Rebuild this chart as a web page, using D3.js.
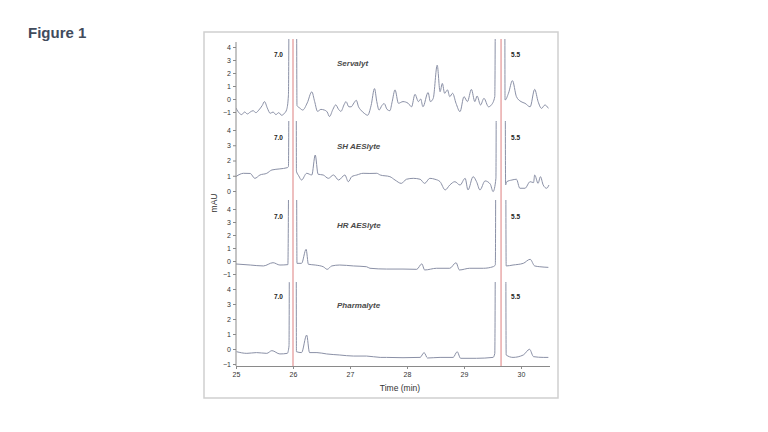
<!DOCTYPE html>
<html>
<head>
<meta charset="utf-8">
<script src="https://cdn.jsdelivr.net/npm/d3@7"></script>
<style>
  body { margin: 0; background: #fff; }
  svg { font-family: Arial, "Liberation Sans", sans-serif; }
</style>
</head>
<body>
<svg width="768" height="432"></svg>
<script>
// data: [time (min), mAU]
const servalyt = [[25.00,-0.7],[25.06,-1.1],[25.10,-1.2],[25.15,-1.0],[25.20,-1.15],[25.25,-1.0],[25.30,-0.9],[25.35,-1.05],[25.40,-0.85],[25.46,-0.5],[25.50,-0.2],[25.55,-0.7],[25.60,-1.1],[25.65,-1.0],[25.70,-1.2],[25.75,-1.05],[25.80,-1.25],[25.85,-1.1],[25.89,-0.8],[25.92,0.3],[25.95,30],[26.05,30],[26.07,-0.5],[26.12,-0.7],[26.17,-0.85],[26.25,-0.3],[26.33,0.55],[26.38,-0.2],[26.43,-0.95],[26.49,-0.8],[26.55,-0.85],[26.60,-1.0],[26.64,-1.35],[26.70,-0.8],[26.75,-0.45],[26.80,-0.8],[26.84,-0.95],[26.90,-0.4],[26.93,-0.2],[26.98,-0.6],[27.02,-0.6],[27.07,-0.3],[27.11,-0.1],[27.15,-0.6],[27.19,-0.85],[27.25,-1.1],[27.31,-1.25],[27.37,-0.5],[27.43,0.8],[27.47,-0.2],[27.51,-0.85],[27.56,-0.5],[27.60,-0.35],[27.65,-0.8],[27.70,-0.9],[27.74,-0.2],[27.79,0.7],[27.85,-0.33],[27.93,-0.2],[28.02,-0.33],[28.08,-0.6],[28.14,0.36],[28.20,-0.2],[28.24,0.0],[28.28,-0.6],[28.37,0.5],[28.41,-0.2],[28.46,0.05],[28.53,2.6],[28.58,0.56],[28.62,1.2],[28.66,0.44],[28.71,0.7],[28.75,0.18],[28.80,0.44],[28.86,-0.33],[28.93,-0.97],[29.00,0.18],[29.06,-0.2],[29.13,0.74],[29.19,-0.2],[29.23,0.23],[29.29,-0.46],[29.35,0.05],[29.43,-0.6],[29.48,-0.46],[29.54,0.18],[29.57,30],[29.71,30],[29.72,-0.08],[29.78,0.44],[29.85,1.41],[29.92,0.18],[30.00,-0.2],[30.07,-0.33],[30.16,-0.6],[30.24,0.74],[30.30,-0.2],[30.36,-0.72],[30.42,-0.46],[30.48,-0.72]]

const shAeslyte = [[25.00,0.95],[25.07,1.1],[25.13,1.16],[25.25,1.15],[25.33,0.83],[25.42,1.05],[25.54,1.16],[25.63,1.38],[25.77,1.45],[25.90,1.53],[25.92,1.6],[25.95,30],[26.05,30],[26.06,1.3],[26.10,1.0],[26.15,0.72],[26.24,1.16],[26.33,1.05],[26.39,2.36],[26.44,1.1],[26.53,1.05],[26.62,0.83],[26.71,1.05],[26.80,0.72],[26.91,1.05],[26.97,0.61],[27.03,0.94],[27.12,1.05],[27.23,1.16],[27.35,1.15],[27.47,1.16],[27.53,1.05],[27.70,0.94],[27.79,0.72],[27.90,0.5],[27.99,0.77],[28.11,0.83],[28.23,0.77],[28.31,0.5],[28.40,0.83],[28.49,0.77],[28.58,0.61],[28.67,0.07],[28.75,0.39],[28.84,0.61],[28.93,0.39],[29.02,0.83],[29.07,0.07],[29.16,0.94],[29.22,0.61],[29.28,0.07],[29.37,0.66],[29.46,0.46],[29.51,-0.04],[29.56,0.83],[29.58,30],[29.71,30],[29.73,0.4],[29.75,0.61],[29.84,0.72],[29.92,0.77],[29.98,0.18],[30.07,0.18],[30.16,0.61],[30.22,0.55],[30.24,1.05],[30.30,0.5],[30.34,0.94],[30.39,0.39],[30.45,0.18],[30.49,0.39]]

const hrAeslyte = [[25.00,-0.23],[25.25,-0.31],[25.48,-0.38],[25.65,-0.13],[25.77,-0.31],[25.91,-0.28],[25.95,30],[26.05,30],[26.07,-0.18],[26.15,-0.18],[26.23,0.9],[26.27,-0.25],[26.39,-0.31],[26.53,-0.44],[26.60,-0.64],[26.68,-0.38],[26.82,-0.31],[27.06,-0.38],[27.29,-0.44],[27.35,-0.56],[27.64,-0.62],[27.93,-0.62],[28.17,-0.64],[28.26,-0.22],[28.31,-0.69],[28.52,-0.56],[28.75,-0.56],[28.86,-0.13],[28.92,-0.69],[29.10,-0.56],[29.34,-0.56],[29.51,-0.44],[29.55,-0.3],[29.57,30],[29.72,30],[29.74,-0.38],[29.86,-0.31],[30.04,-0.18],[30.16,0.13],[30.24,-0.38],[30.33,-0.44],[30.48,-0.49]]

const pharmalyte = [[25.01,-0.18],[25.19,-0.29],[25.36,-0.24],[25.54,-0.29],[25.63,-0.11],[25.77,-0.33],[25.90,-0.29],[25.93,0.2],[25.95,30],[26.05,30],[26.06,-0.18],[26.15,-0.24],[26.24,0.93],[26.29,-0.24],[26.42,-0.24],[26.59,-0.33],[26.82,-0.4],[27.06,-0.47],[27.29,-0.47],[27.53,-0.56],[27.64,-0.56],[27.93,-0.58],[28.23,-0.56],[28.30,-0.24],[28.36,-0.6],[28.58,-0.56],[28.81,-0.56],[28.88,-0.18],[28.94,-0.62],[29.22,-0.62],[29.51,-0.56],[29.54,-0.3],[29.57,30],[29.72,30],[29.74,-0.4],[29.86,-0.56],[30.04,-0.4],[30.15,-0.02],[30.22,-0.51],[30.39,-0.56],[30.48,-0.56]]

const names = ['Servalyt', 'SH AESlyte', 'HR AESlyte', 'Pharmalyte']
const traces = [servalyt, shAeslyte, hrAeslyte, pharmalyte]
const yDomains = [[-1, 4], [0, 4], [-1, 4], [-1, 4]]
const yTickValues = [[-1, 0, 1, 2, 3, 4], [0, 1, 2, 3, 4], [-1, 0, 1, 2, 3, 4], [-1, 0, 1, 2, 3, 4]]
const xTicks = [25, 26, 27, 28, 29, 30]
const markers = [26.0, 29.65]
const markerLabels = ['7.0', '5.5']

// layout
const panelRanges = [[112, 47], [191, 130], [274, 209], [364, 289]]
const panelTops = [39, 121, 200, 282]
const axisBottom = 366

const svg = d3.select('svg')

//figure title
svg.append('text')
    .attr('x', 28)
    .attr('y', 38)
    .text('Figure 1')
    .style('font-size', '15px')
    .style('font-weight', 'bold')
    .style('fill', '#414b5c')

//outer frame
svg.append('rect')
    .attr('x', 204)
    .attr('y', 32)
    .attr('width', 354)
    .attr('height', 366)
    .style('fill', 'none')
    .style('stroke', '#cfcfcf')
    .style('stroke-width', '1.5px')

const x = d3.scaleLinear().domain([25, 30.5]).range([236, 549.5])

//red marker lines
svg.selectAll('line.marker')
    .data(markers)
    .enter().append('line')
    .attr('class', 'marker')
    .attr('x1', d => x(d))
    .attr('x2', d => x(d))
    .attr('y1', 39)
    .attr('y2', axisBottom)
    .style('stroke', '#e39494')
    .style('stroke-width', '1.2px')

//panels
for (let i = 0; i < traces.length; i++) {
    const y = d3.scaleLinear().domain(yDomains[i]).range(panelRanges[i])

    svg.append('clipPath')
        .attr('id', 'clip' + i)
        .append('rect')
        .attr('x', 236)
        .attr('y', panelTops[i])
        .attr('width', 320)
        .attr('height', 120)

    const line = d3.line()
        .x(d => x(d[0]))
        .y(d => y(d[1]))
        .curve(d3.curveMonotoneX)

    svg.append('path')
        .datum(traces[i])
        .attr('d', line)
        .attr('clip-path', 'url(#clip' + i + ')')
        .style('fill', 'none')
        .style('stroke', '#8a90a6')
        .style('stroke-width', '1px')
        .style('stroke-linejoin', 'round')

    //y ticks for this panel
    const ax = svg.append('g')
        .attr('transform', 'translate(236,0)')
        .call(d3.axisLeft(y).tickValues(yTickValues[i]).tickSize(3).tickSizeOuter(0).tickFormat(d3.format('d')))
    ax.select('.domain').remove()
    ax.selectAll('line').style('stroke', '#8a8a8a')
    ax.selectAll('text')
        .style('font-size', '7px')
        .style('fill', '#333')
        .attr('font-family', null)
        .attr('x', -5)

    //sample name
    svg.append('text')
        .attr('x', 337)
        .attr('y', y(4) + 19)
        .text(names[i])
        .style('font-size', '8px')
        .style('font-style', 'italic')
        .style('font-weight', 'bold')
        .style('fill', '#4a4a4a')

    //pI labels
    svg.append('text')
        .attr('x', x(markers[0]) - 10)
        .attr('y', y(4) + 10)
        .attr('text-anchor', 'end')
        .text(markerLabels[0])
        .style('font-size', '6.5px')
        .style('font-weight', 'bold')
        .style('fill', '#222')
    svg.append('text')
        .attr('x', x(markers[1]) + 10)
        .attr('y', y(4) + 10)
        .text(markerLabels[1])
        .style('font-size', '6.5px')
        .style('font-weight', 'bold')
        .style('fill', '#222')
}

//continuous y axis line
svg.append('line')
    .attr('x1', 236)
    .attr('x2', 236)
    .attr('y1', 42)
    .attr('y2', axisBottom)
    .style('stroke', '#8a8a8a')
    .style('stroke-width', '1px')

//x axis
const xa = svg.append('g')
    .attr('transform', 'translate(0,' + axisBottom + ')')
    .call(d3.axisBottom(x).tickValues(xTicks).tickSize(3).tickSizeOuter(0).tickFormat(d3.format('d')))
xa.select('.domain').style('stroke', '#8a8a8a')
xa.selectAll('line').style('stroke', '#8a8a8a')
xa.selectAll('text')
    .attr('font-family', null)
    .style('font-size', '7px')
    .style('fill', '#333')

//axis titles
svg.append('text')
    .attr('x', 400)
    .attr('y', 391)
    .attr('text-anchor', 'middle')
    .text('Time (min)')
    .style('font-size', '8.5px')
    .style('fill', '#333')

svg.append('text')
    .attr('transform', 'translate(217,203) rotate(-90)')
    .attr('text-anchor', 'middle')
    .text('mAU')
    .style('font-size', '8.5px')
    .style('fill', '#333')
</script>
</body>
</html>
